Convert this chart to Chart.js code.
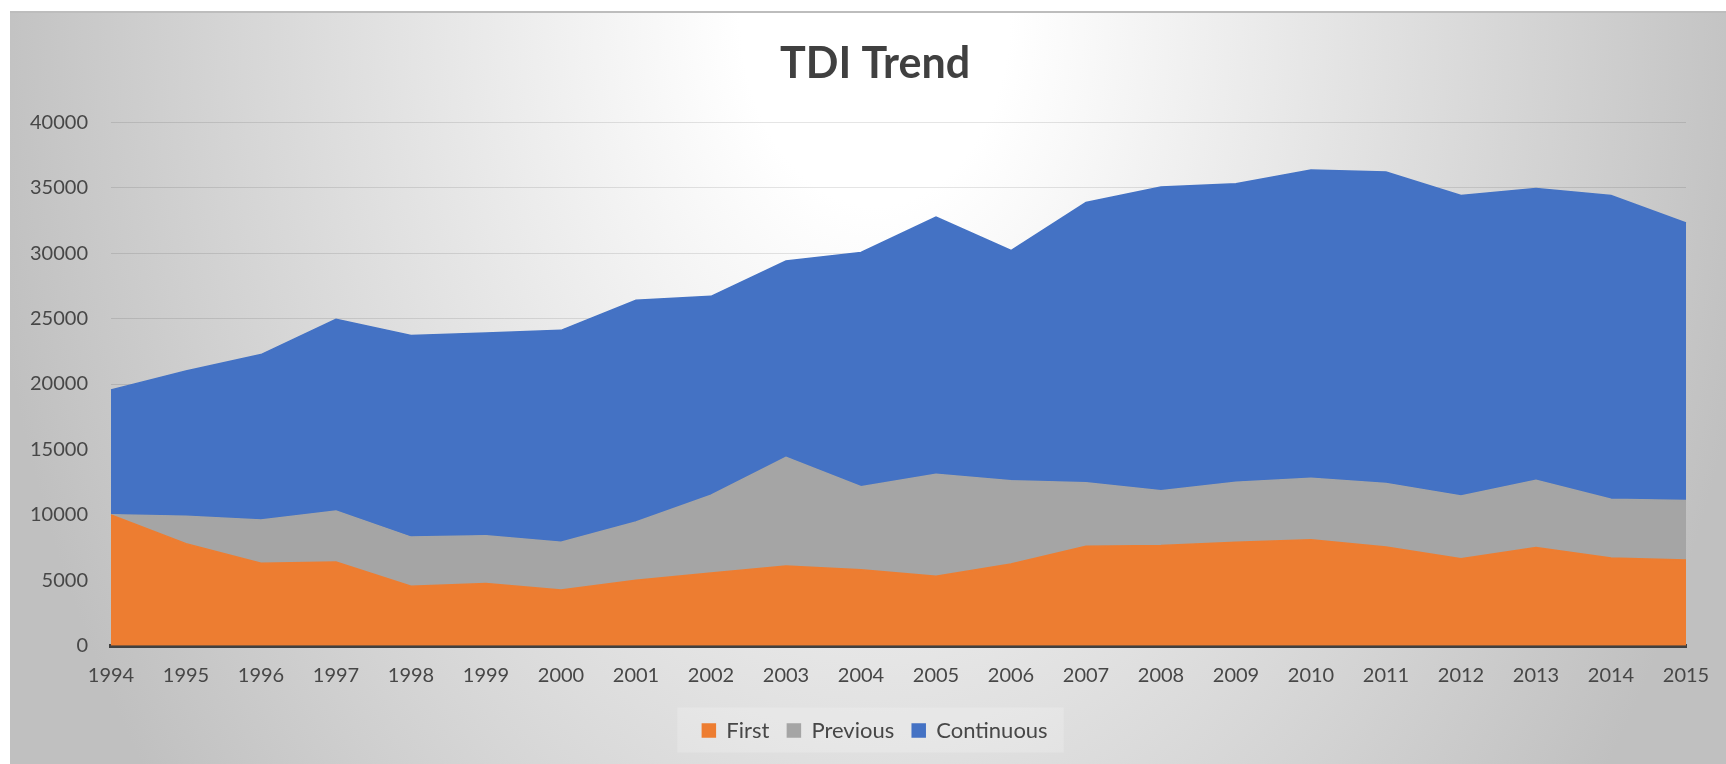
<!DOCTYPE html>
<html>
<head>
<meta charset="utf-8">
<title>TDI Trend</title>
<script src="https://cdn.jsdelivr.net/npm/chart.js@4.4.1/dist/chart.umd.min.js"></script>
<style>
  html, body { margin: 0; padding: 0; background: #fff; overflow: hidden; }
  #frame {
    position: absolute; left: 10px; top: 11px; width: 1730px; height: 760px;
    background: radial-gradient(ellipse 900px 1300px at 50% 0%, #ffffff 0%, #ffffff 15%, #c0c0c0 100%);
    box-shadow: inset 0 2px 0 #bdbdbd;
  }
  #holder { position: absolute; left: 0; top: 11px; width: 1750px; height: 760px; }
</style>
</head>
<body>
<div id="frame"></div>
<div id="holder"><canvas id="tdiChart"></canvas></div>
<script>
const years = ['1994', '1995', '1996', '1997', '1998', '1999', '2000', '2001', '2002', '2003', '2004',
               '2005', '2006', '2007', '2008', '2009', '2010', '2011', '2012', '2013', '2014', '2015'];
const first = [10000, 7800, 6300, 6400, 4550, 4750, 4250, 5000, 5550, 6100, 5800,
               5300, 6250, 7600, 7650, 7900, 8100, 7550, 6650, 7500, 6700, 6550];
const previous = [0, 2100, 3300, 3900, 3750, 3650, 3650, 4450, 5950, 8300, 6350,
                  7800, 6350, 4850, 4200, 4600, 4700, 4850, 4800, 5150, 4500, 4550];
const continuous = [9550, 11100, 12650, 14650, 15400, 15500, 16200, 16950, 15200, 15000, 17900,
                    19650, 17600, 21420, 23200, 22800, 23550, 23800, 22950, 22300, 23200, 21200];
const yMax = 40000;
const yStep = 5000;

Chart.defaults.font.family = "Lato, 'Open Sans', sans-serif";

// light panel behind the legend items
const legendPanel = {
    id: 'legendPanel',
    beforeDraw(chart) {
        const boxes = chart.legend && chart.legend.legendHitBoxes;
        if (!boxes || !boxes.length) return;
        const a = boxes[0], b = boxes[boxes.length - 1];
        const mid = a.top + a.height / 2;
        const c = chart.ctx;
        c.save();
        c.fillStyle = 'rgba(255,255,255,0.2)';
        c.fillRect(a.left - 25, mid - 23, b.left + b.width - a.left + 41, 45);
        c.restore();
    }
};

window.addEventListener('load', function(){
    const ctx = document.getElementById('tdiChart');
    const tdiChart = new Chart(ctx, {
        type: 'line',
        data: {
            labels: years,
            datasets: [{
                label: 'First',
                data: first,
                backgroundColor: '#ED7D31',
                borderColor: '#ED7D31',
                fill: 'origin',
            }, {
                label: 'Previous',
                data: previous,
                backgroundColor: '#A5A5A5',
                borderColor: '#A5A5A5',
                fill: '-1',
            }, {
                label: 'Continuous',
                data: continuous,
                backgroundColor: '#4472C4',
                borderColor: '#4472C4',
                fill: '-1',
            }]
        },
        options: {
            responsive: true,
            maintainAspectRatio: false,
            animation: false,
            elements: {
                line: { borderWidth: 1.5, tension: 0 },
                point: { radius: 0, hoverRadius: 0 }
            },
            layout: {
                padding: { left: 7, right: 7, top: 0, bottom: 19.5 }
            },
            plugins: {
                title: {
                    display: true,
                    text: 'TDI Trend',
                    color: '#404040',
                    font: { size: 43, weight: 'bold' },
                    padding: { top: 27, bottom: 32.7 }
                },
                legend: {
                    position: 'bottom',
                    labels: {
                        boxWidth: 13,
                        boxHeight: 13,
                        padding: 18,
                        color: '#474747',
                        font: { size: 22 }
                    }
                },
                tooltip: { enabled: false }
            },
            scales: {
                x: {
                    z: 1,
                    grid: { display: false, drawTicks: false, tickLength: 0 },
                    border: { color: '#404040', width: 4 },
                    ticks: {
                        color: '#474747',
                        font: { size: 20 },
                        padding: 18,
                        maxRotation: 0,
                        autoSkip: false
                    },
                    afterFit: function(scale) { scale.height -= 4.2; }
                },
                y: {
                    stacked: true,
                    min: 0,
                    max: yMax,
                    grid: { color: 'rgba(0,0,0,0.1)', lineWidth: 1, drawTicks: false },
                    border: { display: false },
                    ticks: {
                        stepSize: yStep,
                        color: '#474747',
                        font: { size: 20 },
                        padding: 23,
                        callback: function(v) { return String(v); }
                    }
                },
                // empty right-hand axis so the title and legend centre like the original
                spacer: {
                    type: 'linear',
                    position: 'right',
                    grid: { display: false, drawTicks: false },
                    border: { display: false },
                    ticks: { display: false },
                    afterFit: function(scale) { scale.width = 57; }
                }
            }
        },
        plugins: [legendPanel]
    });
});
</script>
</body>
</html>
